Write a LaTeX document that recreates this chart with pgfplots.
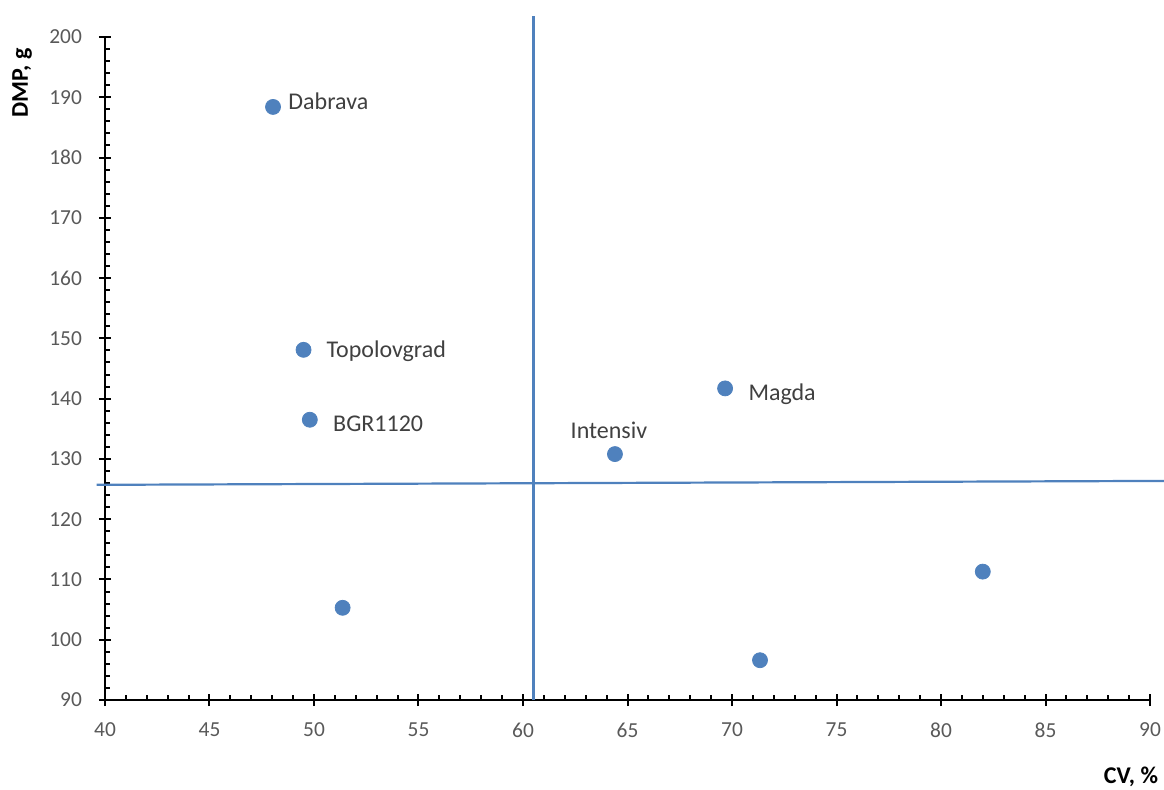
\documentclass[border=0pt]{standalone}
\usepackage{pgfplots}
\pgfplotsset{compat=1.18}
\usepackage{fontspec}
\setmainfont{Carlito}
\definecolor{mk}{HTML}{4F81BD}
\definecolor{ln}{HTML}{4F81BD}
\definecolor{tickgray}{HTML}{595959}
\definecolor{lblgray}{HTML}{404040}
\begin{document}
\begin{tikzpicture}
\useasboundingbox (-52.5pt,-44.5pt) rectangle (529.5pt,350pt);
\begin{axis}[
  at={(0,0)}, anchor=south west,
  scale only axis, width=522.5pt, height=331.5pt,
  xmin=40, xmax=90, ymin=90, ymax=200,
  axis x line*=bottom, axis y line*=left,
  x axis line style={-, line width=1pt, black},
  y axis line style={-, line width=1pt, black},
  xtick={40,45,...,90}, ytick={90,100,...,200},
  tick align=center, major tick length=6pt,
  tick style={black, line width=1pt},
  extra x ticks={41,42,43,44,46,47,48,49,51,52,53,54,56,57,58,59,61,62,63,64,66,67,68,69,71,72,73,74,76,77,78,79,81,82,83,84,86,87,88,89},
  extra x tick labels={},
  extra x tick style={tick align=inside, major tick length=2.5pt},
  extra y ticks={92,94,96,98,102,104,106,108,112,114,116,118,122,124,126,128,132,134,136,138,142,144,146,148,152,154,156,158,162,164,166,168,172,174,176,178,182,184,186,188,192,194,196,198},
  extra y tick labels={},
  extra y tick style={tick align=inside, major tick length=2.5pt},
  /pgf/number format/assume math mode=true,
  ticklabel style={font=\fontsize{10.7}{12}\selectfont, text=tickgray},
  xticklabel style={yshift=-5pt},
  yticklabel style={xshift=-5pt},
  xlabel={CV, \%},
  xlabel style={at={(axis description cs:0.9818,-0.116)}, anchor=center, font=\bfseries\fontsize{12}{14}\selectfont},
  ylabel={DMP, g},
  ylabel style={at={(axis description cs:-0.0794,0.9306)}, anchor=center, font=\bfseries\fontsize{12}{14}\selectfont},
  clip=false,
]
\addplot[ln, line width=1.1pt] coordinates {(60.5,90) (60.5,203.5)};
\addplot[ln, line width=1.1pt] coordinates {(39.6,125.7) (90.67,126.35)};
\addplot[only marks, mark=*, mark size=3.75pt, color=mk] table {
x y
48.04 188.4
49.5 148.1
49.8 136.5
51.37 105.3
64.4 130.8
69.67 141.7
71.34 96.6
82.0 111.3
};
\begin{scope}[every node/.style={font=\fontsize{12}{14}\selectfont, text=lblgray, inner sep=0pt}]
\node[anchor=base west, xshift=7.5pt, yshift=-1.4pt] at (axis cs:48.04,188.4) {Dabrava};
\node[anchor=base west, xshift=11.3pt, yshift=-3.9pt] at (axis cs:49.5,148.1) {Topolovgrad};
\node[anchor=base west, xshift=11.5pt, yshift=-5.9pt] at (axis cs:49.8,136.5) {BGR1120};
\node[anchor=base west, xshift=11.5pt, yshift=-5.9pt] at (axis cs:69.67,141.7) {Magda};
\node[anchor=base, xshift=-3pt, yshift=8pt] at (axis cs:64.4,130.8) {Intensiv};
\end{scope}
\end{axis}
\end{tikzpicture}
\end{document}
